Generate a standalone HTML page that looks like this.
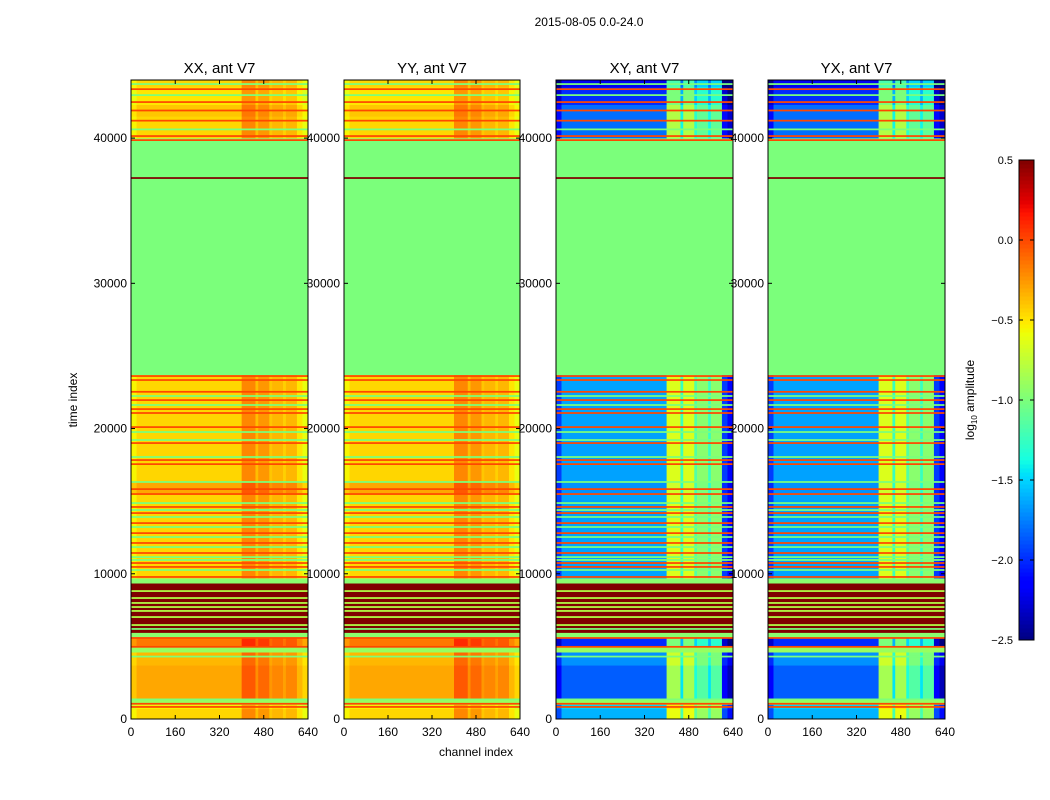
<!DOCTYPE html>
<html><head><meta charset="utf-8"><style>
body{margin:0;background:#fff;}
svg{display:block;font-family:"Liberation Sans",sans-serif;}
</style></head><body>
<svg id="fig" width="1050" height="800" viewBox="0 0 1050 800">
<rect width="1050" height="800" fill="#fff"/>
<text x="589" y="26" font-size="12" text-anchor="middle">2015-08-05 0.0-24.0</text>
<text transform="translate(77,400) rotate(-90)" font-size="12" text-anchor="middle">time index</text>
<text x="476" y="756" font-size="12" text-anchor="middle">channel index</text>
<g id="panels"></g>
<g id="cbar"></g>
<text transform="translate(974,400) rotate(-90)" font-size="12" text-anchor="middle">log<tspan font-size="8" dy="3">10</tspan><tspan dy="-3"> amplitude</tspan></text>
</svg>
<script>
// ---- data ----
const panelTitles = ["XX, ant V7","YY, ant V7","XY, ant V7","YX, ant V7"];
const panelKind = ["A","A","B","B"];
const xTicks = [0,160,320,480,640];
const yTicks = [0,10000,20000,30000,40000];
const cbarTicks = [0.5,0.0,-0.5,-1.0,-1.5,-2.0,-2.5];
const chanEdges = [0,20,400,450,460,500,510,550,560,600,620,640];
const chanOffA = [-0.1,0,0.25,0.08,0.2,0.05,0.1,0.02,0.1,-0.05,-0.15];
const chanOffB = [-0.3,0,1.0,0.4,1.0,0.5,0.7,0.4,0.7,-0.3,-0.5];
const bandT0 = [0,700,1000,1400,3700,4600,5000,5600,5950,9350,9700,15500,16300,23700,40000,41500,42300,43500];
const bandT1 = [700,1000,1400,3700,4600,5000,5600,5950,9350,9700,15500,16300,23700,40000,41500,42300,43500,44000];
const bandA = [-0.45,-0.55,-0.9,-0.3,-0.35,-0.9,-0.15,-0.95,0.5,-0.95,-0.45,-0.3,-0.45,-1.0,-0.45,-0.4,-0.5,-0.45];
const bandB = [-1.6,-1.5,-0.9,-1.85,-1.7,-0.9,-2.0,-0.95,0.5,-0.95,-1.65,-1.7,-1.65,-1.0,-1.8,-1.8,-2.0,-2.2];
const bandUniform = [0,0,1,0,0,1,0,1,1,1,0,0,0,1,0,0,0,0];
const stripeT = [23615,23340,22530,21960,21340,21070,20100,19000,17830,17550,15830,15490,14600,14180,13490,12800,12120,11430,10740,10470,9780,5580,4970,830,1050,40140,39860,43370,42480,41200,41900,37250,
 22240,21620,19760,19210,18040,16320,14870,14390,13910,13220,12530,11840,11150,10950,10260,43720,42960,40600,1350,4300,
 8810,8330,7990,7710,7440,7020,6470,6200];
const stripeV = [0,0,0,0,0,0,0,0,0,0,0,0,0,0,0,0,0,0,0,0,0,0,0,0,0,0,0,0,0,0,0,0.5,
 -1,-1,-1,-1,-1,-1,-1,-1,-1,-1,-1,-1,-1,-1,-1,-1,-1,-1,-1,-1,
 -0.8,-0.8,-0.8,-0.8,-0.8,-0.8,-0.8,-1];
// ---- helpers ----
const NS="http://www.w3.org/2000/svg";
const panelX0=[131,344,556,768], panelX1=[308,520,733,945];
const vmin=-2.5, vmax=0.5;
const yScale = t => 719 - t*(639/44000);
const xScale = (p,c) => panelX0[p] + c/640*(panelX1[p]-panelX0[p]);
const cyScale = v => 640 - (v-vmin)/(vmax-vmin)*480;
function cl(x){return Math.max(0,Math.min(1,x));}
function jet(v){
  const x=cl((v-vmin)/(vmax-vmin));
  let r,g,b;
  r = x<0.35?0:x<0.66?(x-0.35)/0.31:x<0.89?1:1-(x-0.89)/0.11*0.5;
  g = x<0.125?0:x<0.375?(x-0.125)/0.25:x<0.64?1:x<0.91?1-(x-0.64)/0.27:0;
  b = x<0.11?0.5+x/0.11*0.5:x<0.34?1:x<0.65?1-(x-0.34)/0.31:0;
  return `rgb(${Math.round(cl(r)*255)},${Math.round(cl(g)*255)},${Math.round(cl(b)*255)})`;
}
function mk(tag,attrs,parent){const e=document.createElementNS(NS,tag);for(const k in attrs)e.setAttribute(k,attrs[k]);parent.appendChild(e);return e;}
const root=document.getElementById('panels');
for(let p=0;p<4;p++){
  const g=mk('g',{},root);
  
  
  const off = panelKind[p]==="A"?chanOffA:chanOffB;
  const base = panelKind[p]==="A"?bandA:bandB;
  for(let i=0;i<bandT0.length;i++){
    const y0=yScale(bandT1[i]), y1=yScale(bandT0[i]);
    if(bandUniform[i]){
      const r=mk('rect',{x:xScale(p,0),y:y0,width:xScale(p,640)-xScale(p,0),height:y1-y0+0.3,fill:jet(base[i])},g);
      
      
    } else {
      for(let c=0;c<chanEdges.length-1;c++){
        const r=mk('rect',{x:xScale(p,chanEdges[c]),y:y0,width:xScale(p,chanEdges[c+1])-xScale(p,chanEdges[c])+0.3,height:y1-y0+0.3,fill:jet(base[i]+off[c])},g);
        
        
      }
    }
  }
  for(let s=0;s<stripeT.length;s++){
    const y0=yScale(stripeT[s]+60), y1=yScale(stripeT[s]-60);
    const r=mk('rect',{x:xScale(p,0),y:y0,width:xScale(p,640)-xScale(p,0),height:y1-y0,fill:jet(stripeV[s])},g);
    
    
  }
  const fr=mk('rect',{x:panelX0[p],y:80,width:panelX1[p]-panelX0[p],height:639,fill:'none',stroke:'#000','stroke-width':1},g);
  
  
  const t=mk('text',{x:(panelX0[p]+panelX1[p])/2,y:73,'font-size':15,'text-anchor':'middle'},g);
  t.textContent=panelTitles[p];
  
  
  for(const v of xTicks){
    const x=xScale(p,v);
    mk('line',{x1:x,x2:x,y1:719,y2:715,stroke:'#000'},g);
    mk('line',{x1:x,x2:x,y1:80,y2:84,stroke:'#000'},g);
    const tl=mk('text',{x:x,y:736,'font-size':12,'text-anchor':'middle'},g);
    tl.textContent=v;
    
    
  }
  for(const v of yTicks){
    const y=yScale(v);
    mk('line',{x1:panelX0[p],x2:panelX0[p]+4,y1:y,y2:y,stroke:'#000'},g);
    mk('line',{x1:panelX1[p],x2:panelX1[p]-4,y1:y,y2:y,stroke:'#000'},g);
    const tl=mk('text',{x:panelX0[p]-4,y:y+4,'font-size':12,'text-anchor':'end'},g);
    tl.textContent=v;
    
    
  }
}
// colorbar
const cb=document.getElementById('cbar');
for(let i=0;i<120;i++){
  const v0=vmin+(vmax-vmin)*i/120, v1=vmin+(vmax-vmin)*(i+1)/120;
  const r=mk('rect',{x:1019,y:cyScale(v1),width:15,height:cyScale(v0)-cyScale(v1)+0.5,fill:jet((v0+v1)/2)},cb);
  
  
}
mk('rect',{x:1019,y:160,width:15,height:480,fill:'none',stroke:'#000'},cb);
for(const v of cbarTicks){
  const y=cyScale(v);
  mk('line',{x1:1019,x2:1023,y1:y,y2:y,stroke:'#000'},cb);
  mk('line',{x1:1030,x2:1034,y1:y,y2:y,stroke:'#000'},cb);
  const tl=mk('text',{x:1013,y:y+4,'font-size':11,'text-anchor':'end'},cb);
  tl.textContent=v.toFixed(1).replace('-','\u2212');
  
  
}
</script>
</body></html>
